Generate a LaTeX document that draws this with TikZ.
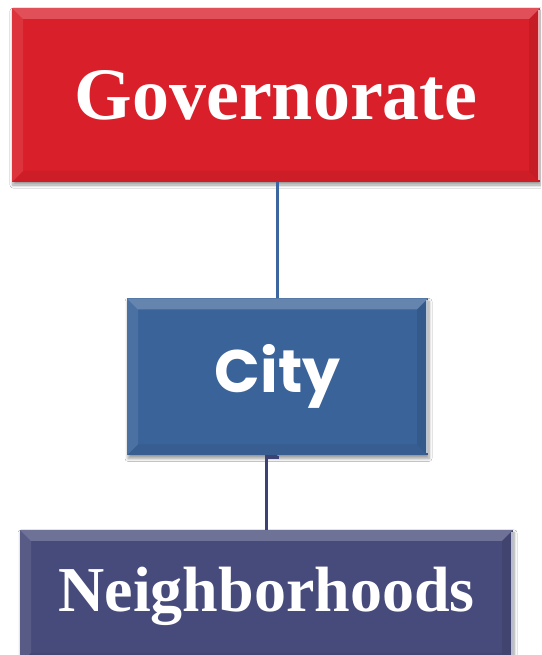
\documentclass[tikz,border=0pt]{standalone}
\usepackage{fontspec}
\setmainfont{Liberation Serif}
\newfontfamily\cityfont{Poppins}
\usetikzlibrary{positioning, shadows, shadows.blur}
\definecolor{cGov}{HTML}{D91F2A}
\definecolor{cCity}{HTML}{3A6399}
\definecolor{cNbh}{HTML}{474B7B}
\definecolor{cLinkA}{HTML}{3C66A0}
\definecolor{cLinkB}{HTML}{3C4272}
\newcommand{\bevw}{11pt}
\tikzset{
  % raised-tile look: light top/left, dark bottom/right, thin light rim on the right
  bevel/.style     ={path picture={
      \fill[white, opacity=0.22]
        (path picture bounding box.north west) -- (path picture bounding box.north east)
        -- ([xshift=-\bevw, yshift=-\bevw]path picture bounding box.north east)
        -- ([xshift=\bevw, yshift=-\bevw]path picture bounding box.north west) -- cycle;
      \fill[white, opacity=0.09]
        (path picture bounding box.north west)
        -- ([xshift=\bevw, yshift=-\bevw]path picture bounding box.north west)
        -- ([xshift=\bevw, yshift=\bevw]path picture bounding box.south west)
        -- (path picture bounding box.south west) -- cycle;
      \fill[black, opacity=0.05]
        (path picture bounding box.south west) -- (path picture bounding box.south east)
        -- ([xshift=-\bevw, yshift=\bevw]path picture bounding box.south east)
        -- ([xshift=\bevw, yshift=\bevw]path picture bounding box.south west) -- cycle;
      \fill[black, opacity=0.09]
        (path picture bounding box.north east)
        -- ([xshift=-\bevw, yshift=-\bevw]path picture bounding box.north east)
        -- ([xshift=-\bevw, yshift=\bevw]path picture bounding box.south east)
        -- (path picture bounding box.south east) -- cycle;
      \draw[white, opacity=0.65, line width=1.6pt]
        ([xshift=-1.2pt, yshift=-2pt]path picture bounding box.north east)
        -- ([xshift=-1.2pt, yshift=2pt]path picture bounding box.south east);
    }},
  tierbox/.style   ={rectangle, inner sep=0pt, text=white, bevel,
                     blur shadow={shadow xshift=1pt, shadow yshift=-3pt,
                                  shadow blur steps=6, shadow blur radius=3pt,
                                  shadow opacity=40}},
  govbox/.style    ={tierbox, fill=cGov, minimum width=528pt, minimum height=174pt,
                     font=\fontsize{74}{80}\selectfont\bfseries},
  citybox/.style   ={tierbox, fill=cCity, minimum width=301pt, minimum height=157pt,
                     font=\cityfont\fontsize{60}{66}\selectfont\bfseries},
  nbhbox/.style    ={tierbox, fill=cNbh, minimum width=493pt, minimum height=134pt,
                     font=\fontsize{64}{70}\selectfont\bfseries},
  linkA/.style     ={line width=2.6pt, draw=cLinkA},
  linkB/.style     ={line width=3.4pt, draw=cLinkB},
}

\begin{document}
\begin{tikzpicture}
  \useasboundingbox (0,0) rectangle (541pt,-655pt);
  \clip (0,0) rectangle (541pt,-655pt);
  \fill[white] (0,0) rectangle (541pt,-655pt);

  % --- three levels, top to bottom ---
  \node[govbox] (gov) at (276pt,-95pt) {Governorate};
  \node[citybox, below=116pt of gov, xshift=1.5pt] (city) {City};
  \node[nbhbox, below=74pt of city, xshift=-11pt] (nbh) {Neighborhoods};

  % --- connectors ---
  \draw[linkA] (city.north) -- (city.north |- gov.south);
  \draw[linkB] (city.south) -- ([yshift=-1.5pt]city.south) -| (nbh.north);

\end{tikzpicture}
\end{document}
